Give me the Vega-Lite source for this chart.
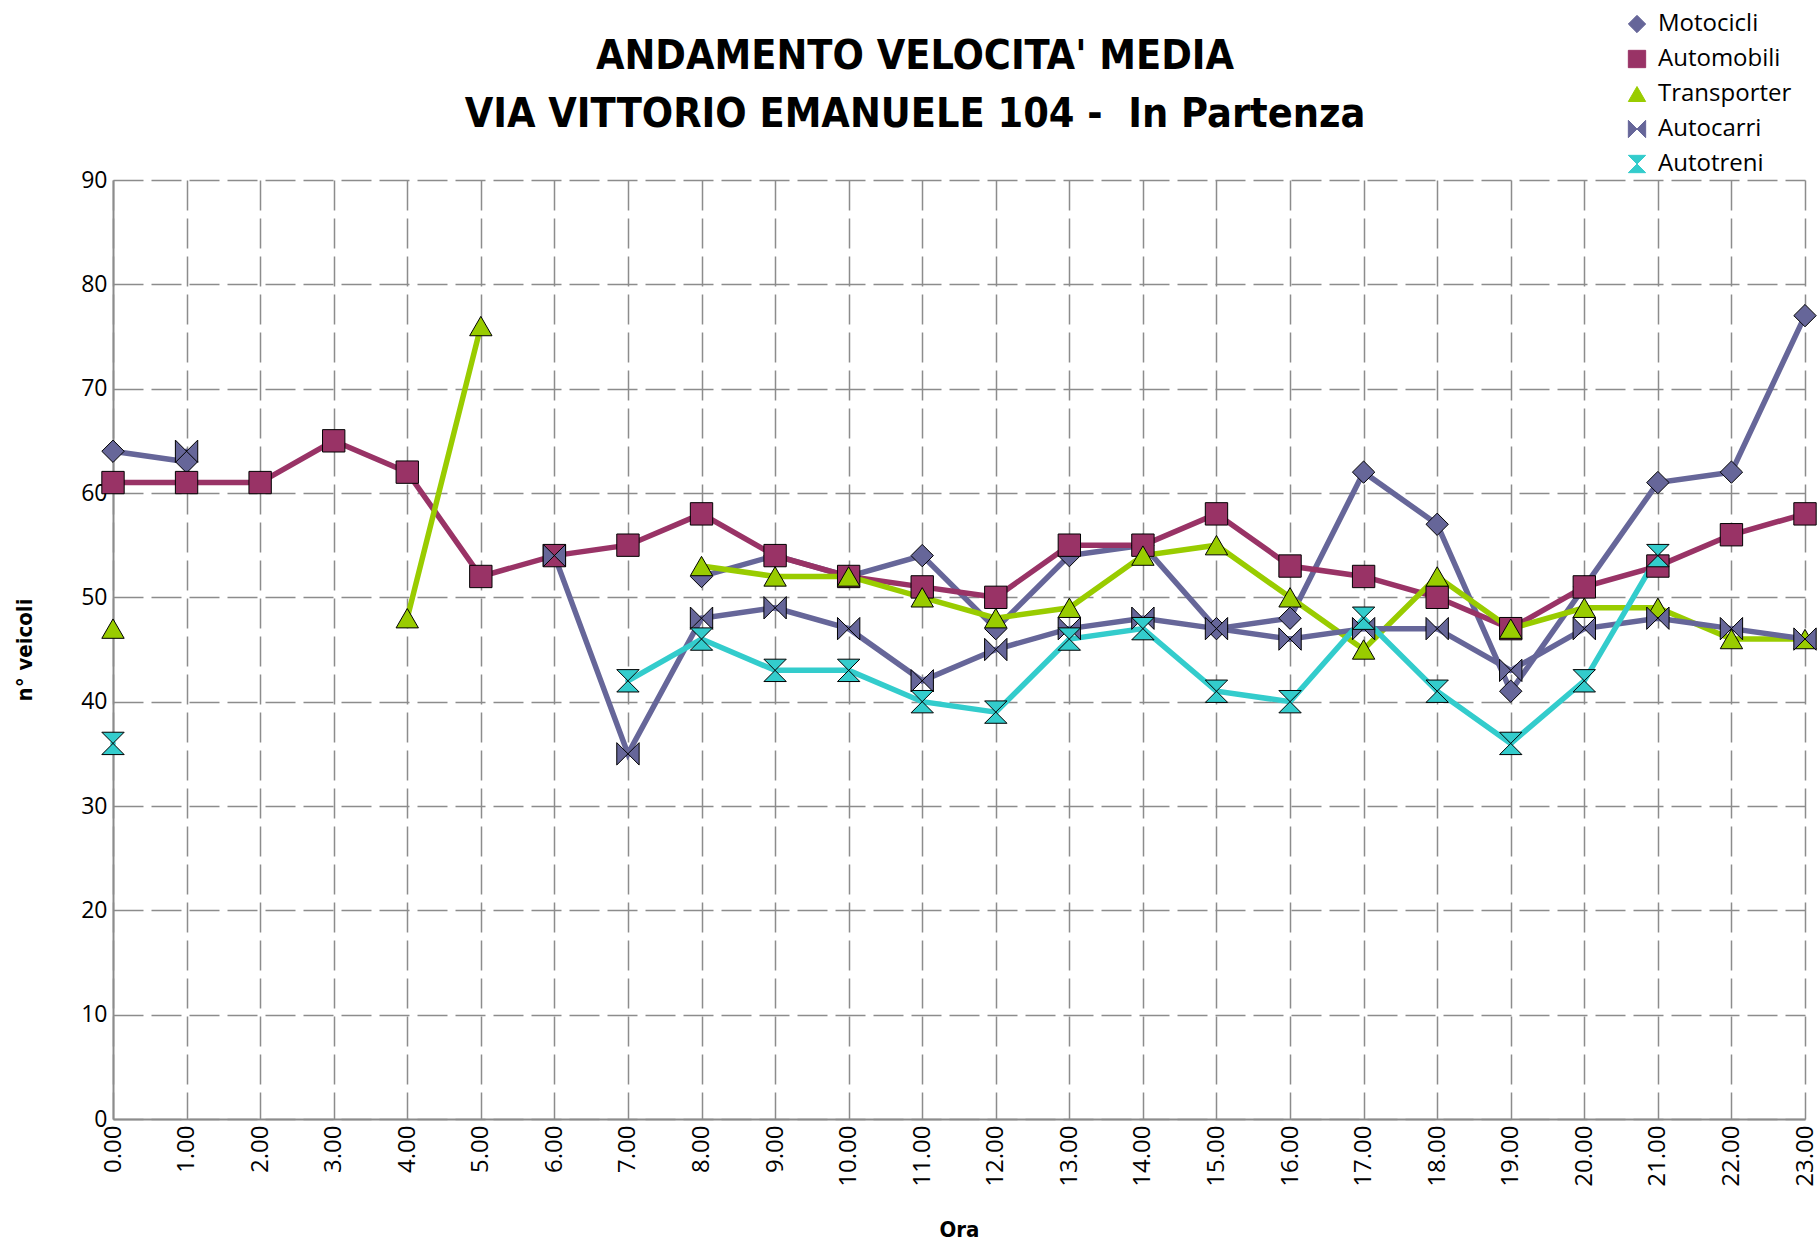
{
  "$schema": "https://vega.github.io/schema/vega-lite/v6.json",
  "autosize": "none",
  "width": 1692,
  "height": 939,
  "padding": {"left": 113, "top": 180, "right": 15, "bottom": 126},
  "background": "white",
  "title": {
    "text": ["ANDAMENTO VELOCITA' MEDIA", "VIA VITTORIO EMANUELE 104 - \u00a0In Partenza"],
    "font": "Liberation Sans Narrow, DejaVu Sans Condensed, Roboto",
    "fontSize": 41,
    "fontWeight": "bold",
    "lineHeight": 58,
    "color": "black",
    "anchor": "middle",
    "frame": "group",
    "dx": -44,
    "offset": -124
  },
  "data": {
    "values": [
      {"ora": 0, "serie": "Motocicli", "v": 64}, {"ora": 1, "serie": "Motocicli", "v": 63}, {"ora": 2, "serie": "Motocicli", "v": null}, {"ora": 3, "serie": "Motocicli", "v": null}, {"ora": 4, "serie": "Motocicli", "v": null}, {"ora": 5, "serie": "Motocicli", "v": null}, {"ora": 6, "serie": "Motocicli", "v": null}, {"ora": 7, "serie": "Motocicli", "v": null}, {"ora": 8, "serie": "Motocicli", "v": 52}, {"ora": 9, "serie": "Motocicli", "v": 54}, {"ora": 10, "serie": "Motocicli", "v": 52}, {"ora": 11, "serie": "Motocicli", "v": 54}, {"ora": 12, "serie": "Motocicli", "v": 47}, {"ora": 13, "serie": "Motocicli", "v": 54}, {"ora": 14, "serie": "Motocicli", "v": 55}, {"ora": 15, "serie": "Motocicli", "v": 47}, {"ora": 16, "serie": "Motocicli", "v": 48}, {"ora": 17, "serie": "Motocicli", "v": 62}, {"ora": 18, "serie": "Motocicli", "v": 57}, {"ora": 19, "serie": "Motocicli", "v": 41}, {"ora": 20, "serie": "Motocicli", "v": 51}, {"ora": 21, "serie": "Motocicli", "v": 61}, {"ora": 22, "serie": "Motocicli", "v": 62}, {"ora": 23, "serie": "Motocicli", "v": 77},
      {"ora": 0, "serie": "Automobili", "v": 61}, {"ora": 1, "serie": "Automobili", "v": 61}, {"ora": 2, "serie": "Automobili", "v": 61}, {"ora": 3, "serie": "Automobili", "v": 65}, {"ora": 4, "serie": "Automobili", "v": 62}, {"ora": 5, "serie": "Automobili", "v": 52}, {"ora": 6, "serie": "Automobili", "v": 54}, {"ora": 7, "serie": "Automobili", "v": 55}, {"ora": 8, "serie": "Automobili", "v": 58}, {"ora": 9, "serie": "Automobili", "v": 54}, {"ora": 10, "serie": "Automobili", "v": 52}, {"ora": 11, "serie": "Automobili", "v": 51}, {"ora": 12, "serie": "Automobili", "v": 50}, {"ora": 13, "serie": "Automobili", "v": 55}, {"ora": 14, "serie": "Automobili", "v": 55}, {"ora": 15, "serie": "Automobili", "v": 58}, {"ora": 16, "serie": "Automobili", "v": 53}, {"ora": 17, "serie": "Automobili", "v": 52}, {"ora": 18, "serie": "Automobili", "v": 50}, {"ora": 19, "serie": "Automobili", "v": 47}, {"ora": 20, "serie": "Automobili", "v": 51}, {"ora": 21, "serie": "Automobili", "v": 53}, {"ora": 22, "serie": "Automobili", "v": 56}, {"ora": 23, "serie": "Automobili", "v": 58},
      {"ora": 0, "serie": "Transporter", "v": 47}, {"ora": 1, "serie": "Transporter", "v": null}, {"ora": 2, "serie": "Transporter", "v": null}, {"ora": 3, "serie": "Transporter", "v": null}, {"ora": 4, "serie": "Transporter", "v": 48}, {"ora": 5, "serie": "Transporter", "v": 76}, {"ora": 6, "serie": "Transporter", "v": null}, {"ora": 7, "serie": "Transporter", "v": null}, {"ora": 8, "serie": "Transporter", "v": 53}, {"ora": 9, "serie": "Transporter", "v": 52}, {"ora": 10, "serie": "Transporter", "v": 52}, {"ora": 11, "serie": "Transporter", "v": 50}, {"ora": 12, "serie": "Transporter", "v": 48}, {"ora": 13, "serie": "Transporter", "v": 49}, {"ora": 14, "serie": "Transporter", "v": 54}, {"ora": 15, "serie": "Transporter", "v": 55}, {"ora": 16, "serie": "Transporter", "v": 50}, {"ora": 17, "serie": "Transporter", "v": 45}, {"ora": 18, "serie": "Transporter", "v": 52}, {"ora": 19, "serie": "Transporter", "v": 47}, {"ora": 20, "serie": "Transporter", "v": 49}, {"ora": 21, "serie": "Transporter", "v": 49}, {"ora": 22, "serie": "Transporter", "v": 46}, {"ora": 23, "serie": "Transporter", "v": 46},
      {"ora": 0, "serie": "Autocarri", "v": null}, {"ora": 1, "serie": "Autocarri", "v": 64}, {"ora": 2, "serie": "Autocarri", "v": null}, {"ora": 3, "serie": "Autocarri", "v": null}, {"ora": 4, "serie": "Autocarri", "v": null}, {"ora": 5, "serie": "Autocarri", "v": null}, {"ora": 6, "serie": "Autocarri", "v": 54}, {"ora": 7, "serie": "Autocarri", "v": 35}, {"ora": 8, "serie": "Autocarri", "v": 48}, {"ora": 9, "serie": "Autocarri", "v": 49}, {"ora": 10, "serie": "Autocarri", "v": 47}, {"ora": 11, "serie": "Autocarri", "v": 42}, {"ora": 12, "serie": "Autocarri", "v": 45}, {"ora": 13, "serie": "Autocarri", "v": 47}, {"ora": 14, "serie": "Autocarri", "v": 48}, {"ora": 15, "serie": "Autocarri", "v": 47}, {"ora": 16, "serie": "Autocarri", "v": 46}, {"ora": 17, "serie": "Autocarri", "v": 47}, {"ora": 18, "serie": "Autocarri", "v": 47}, {"ora": 19, "serie": "Autocarri", "v": 43}, {"ora": 20, "serie": "Autocarri", "v": 47}, {"ora": 21, "serie": "Autocarri", "v": 48}, {"ora": 22, "serie": "Autocarri", "v": 47}, {"ora": 23, "serie": "Autocarri", "v": 46},
      {"ora": 0, "serie": "Autotreni", "v": 36}, {"ora": 1, "serie": "Autotreni", "v": null}, {"ora": 2, "serie": "Autotreni", "v": null}, {"ora": 3, "serie": "Autotreni", "v": null}, {"ora": 4, "serie": "Autotreni", "v": null}, {"ora": 5, "serie": "Autotreni", "v": null}, {"ora": 6, "serie": "Autotreni", "v": null}, {"ora": 7, "serie": "Autotreni", "v": 42}, {"ora": 8, "serie": "Autotreni", "v": 46}, {"ora": 9, "serie": "Autotreni", "v": 43}, {"ora": 10, "serie": "Autotreni", "v": 43}, {"ora": 11, "serie": "Autotreni", "v": 40}, {"ora": 12, "serie": "Autotreni", "v": 39}, {"ora": 13, "serie": "Autotreni", "v": 46}, {"ora": 14, "serie": "Autotreni", "v": 47}, {"ora": 15, "serie": "Autotreni", "v": 41}, {"ora": 16, "serie": "Autotreni", "v": 40}, {"ora": 17, "serie": "Autotreni", "v": 48}, {"ora": 18, "serie": "Autotreni", "v": 41}, {"ora": 19, "serie": "Autotreni", "v": 36}, {"ora": 20, "serie": "Autotreni", "v": 42}, {"ora": 21, "serie": "Autotreni", "v": 54}, {"ora": 22, "serie": "Autotreni", "v": null}, {"ora": 23, "serie": "Autotreni", "v": null}
    ]
  },
  "encoding": {
    "x": {
      "field": "ora", "type": "quantitative",
      "scale": {"domain": [0, 23], "nice": false, "zero": false},
      "axis": {
        "title": "Ora",
        "values": [0,1,2,3,4,5,6,7,8,9,10,11,12,13,14,15,16,17,18,19,20,21,22,23],
        "format": ".2f",
        "labelAngle": -90,
        "labelFont": "Open Sans",
        "labelFontSize": 24,
        "labelColor": "black",
        "labelPadding": 6,
        "titleFont": "Liberation Sans Narrow, DejaVu Sans Condensed, Roboto",
        "titleFontSize": 22,
        "titleFontWeight": "bold",
        "titleColor": "black",
        "titlePadding": 33,
        "grid": true,
        "gridDash": [30, 8],
        "gridColor": "#8c8c8c",
        "gridWidth": 1.5,
        "domainColor": "#8c8c8c",
        "domainWidth": 2,
        "ticks": false
      }
    },
    "y": {
      "field": "v", "type": "quantitative",
      "scale": {"domain": [0, 90], "nice": false},
      "axis": {
        "title": "n° veicoli",
        "values": [0,10,20,30,40,50,60,70,80,90],
        "labelFont": "Open Sans",
        "labelFontSize": 23,
        "labelColor": "black",
        "labelPadding": 6,
        "titleFont": "Liberation Sans Narrow, DejaVu Sans Condensed, Roboto",
        "titleFontSize": 22,
        "titleFontWeight": "bold",
        "titleColor": "black",
        "titlePadding": 44,
        "grid": true,
        "gridDash": [30, 8],
        "gridColor": "#8c8c8c",
        "gridWidth": 1.5,
        "domainColor": "#8c8c8c",
        "domainWidth": 2,
        "ticks": false
      }
    },
    "color": {
      "field": "serie", "type": "nominal",
      "scale": {
        "domain": ["Motocicli", "Automobili", "Transporter", "Autocarri", "Autotreni"],
        "range": ["#666699", "#993366", "#99CC00", "#666699", "#33CCCC"]
      },
      "legend": {
        "title": null,
        "orient": "none",
        "legendX": 1512,
        "legendY": -168,
        "labelFont": "Open Sans",
        "labelFontSize": 24,
        "labelColor": "black",
        "symbolSize": 300,
        "symbolStrokeColor": "black",
        "symbolStrokeWidth": 1,
        "rowPadding": 11,
        "labelOffset": 9
      }
    },
    "shape": {
      "field": "serie", "type": "nominal",
      "scale": {
        "domain": ["Motocicli", "Automobili", "Transporter", "Autocarri", "Autotreni"],
        "range": ["diamond", "square", "triangle-up", "M-1,-1L1,1L1,-1L-1,1Z", "M-1,-1L1,-1L-1,1L1,1Z"]
      },
      "legend": null
    }
  },
  "layer": [
    {
      "mark": {"type": "line", "strokeWidth": 5.5, "invalid": "break-paths-show-domains"},
      "encoding": {"shape": {"value": "circle"}}
    },
    {
      "mark": {"type": "point", "filled": true, "opacity": 1, "stroke": "black", "strokeWidth": 1, "size": 500}
    }
  ],
  "config": {
    "view": {"stroke": null}
  }
}
